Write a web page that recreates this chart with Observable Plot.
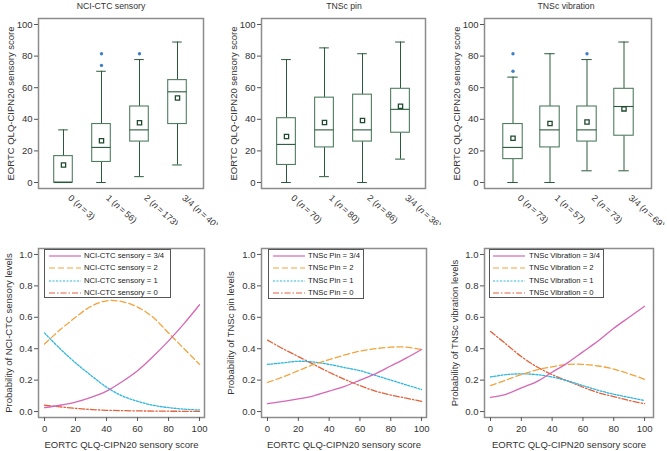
<!DOCTYPE html>
<html><head><meta charset="utf-8">
<script src="https://cdn.jsdelivr.net/npm/d3@7"></script>
<script src="https://cdn.jsdelivr.net/npm/@observablehq/plot@0.6"></script>
<style>
body{margin:0;background:#fff;font-family:"Liberation Sans",Arial,sans-serif;}
#root{position:relative;width:667px;height:451px;overflow:hidden;background:#fff;}
.panel{position:absolute;overflow:hidden;}
.panel svg{overflow:hidden;}
.title{position:absolute;font-size:8.7px;color:#333;text-align:center;width:200px;line-height:12px;}
.legend{position:absolute;border:1px solid #555;background:#fff;font-size:7.7px;color:#222;box-sizing:border-box;}
.legend .row{position:absolute;left:0;height:12px;line-height:12px;white-space:nowrap;}
.legend svg{position:absolute;top:0;}
.legend span{position:absolute;top:0;}
</style></head><body><div id="root"></div>
<script>
// ---------- Box plot data ----------
const categories = ["0", "1", "2", "3/4"];

const nciN = [3, 56, 173, 40];
const nciMin = [0, 0, 3.7, 11.1];
const nciQ1 = [0, 13, 25.9, 37];
const nciMedian = [0, 22.2, 33.3, 57.4];
const nciQ3 = [16.7, 37, 48.1, 64.8];
const nciMax = [33.3, 70.4, 77.8, 88.9];
const nciMean = [11.1, 26.4, 37.8, 53.5];
const nciOutCat = ["1", "1", "2"];
const nciOutVal = [74.1, 81.5, 81.5];

const pinN = [70, 80, 86, 36];
const pinMin = [0, 3.7, 0, 14.8];
const pinQ1 = [11.1, 22.2, 25.9, 31.5];
const pinMedian = [24.1, 33.3, 33.3, 46.3];
const pinQ3 = [40.7, 53.7, 55.6, 59.3];
const pinMax = [77.8, 85.2, 81.5, 88.9];
const pinMean = [29.1, 38, 39.3, 48.2];
const pinOutCat = [];
const pinOutVal = [];

const vibN = [73, 57, 73, 69];
const vibMin = [0, 0, 7.4, 7.4];
const vibQ1 = [14.8, 22.2, 25.9, 29.6];
const vibMedian = [22.2, 33.3, 33.3, 48.1];
const vibQ3 = [37, 48.1, 48.1, 59.3];
const vibMax = [66.7, 81.5, 77.8, 88.9];
const vibMean = [28, 37.4, 38.3, 46.6];
const vibOutCat = ["0", "0", "2"];
const vibOutVal = [70.4, 81.5, 81.5];

const boxTicks = [0, 20, 40, 60, 80, 100];

// ---------- Probability curve data ----------
const score = [0, 10, 20, 30, 40, 50, 60, 70, 80, 90, 100];
const levels = ["3/4", "2", "1", "0"];

const nciP34 = [0.025, 0.04, 0.06, 0.09, 0.13, 0.19, 0.26, 0.35, 0.45, 0.56, 0.68];
const nciP2  = [0.43, 0.52, 0.60, 0.67, 0.705, 0.70, 0.665, 0.60, 0.50, 0.40, 0.30];
const nciP1  = [0.50, 0.40, 0.31, 0.23, 0.155, 0.10, 0.065, 0.04, 0.025, 0.015, 0.01];
const nciP0  = [0.04, 0.03, 0.02, 0.013, 0.008, 0.006, 0.004, 0.003, 0.002, 0.0015, 0.001];

const pinP34 = [0.05, 0.065, 0.08, 0.10, 0.13, 0.16, 0.20, 0.24, 0.29, 0.34, 0.395];
const pinP2  = [0.185, 0.22, 0.26, 0.30, 0.33, 0.36, 0.385, 0.40, 0.41, 0.41, 0.395];
const pinP1  = [0.30, 0.31, 0.32, 0.315, 0.30, 0.28, 0.26, 0.23, 0.20, 0.17, 0.14];
const pinP0  = [0.455, 0.40, 0.35, 0.30, 0.25, 0.205, 0.165, 0.13, 0.105, 0.085, 0.065];

const vibP34 = [0.09, 0.11, 0.15, 0.19, 0.25, 0.31, 0.38, 0.45, 0.53, 0.60, 0.67];
const vibP2  = [0.165, 0.20, 0.235, 0.265, 0.285, 0.30, 0.30, 0.29, 0.27, 0.24, 0.205];
const vibP1  = [0.22, 0.235, 0.24, 0.235, 0.22, 0.195, 0.165, 0.135, 0.11, 0.09, 0.07];
const vibP0  = [0.51, 0.43, 0.35, 0.285, 0.235, 0.195, 0.155, 0.12, 0.095, 0.07, 0.05];

const probTicks = [0, 0.2, 0.4, 0.6, 0.8, 1.0];
const scoreTicks = [0, 20, 40, 60, 80, 100];

// ---------- styles ----------
const levelColor = {"3/4": "#d667b4", "2": "#f2a33c", "1": "#2db6e0", "0": "#e2623c"};
const levelDash = {"3/4": null, "2": "6,3", "1": "2,1.5", "0": "6,2,1.5,2"};
const font = "'Liberation Sans', Arial, sans-serif";
const frameColor = "#8c8c8c";
const whiskColor = "#2a5a3b";
const boxColor = "#4f7d60";

const root = document.getElementById("root");

function place(el, left, top, w, h) {
  const d = document.createElement("div");
  d.className = "panel";
  d.style.left = left + "px"; d.style.top = top + "px";
  d.style.width = w + "px"; d.style.height = h + "px";
  d.appendChild(el);
  root.appendChild(d);
}
function title(text, cx, cy) {
  const t = document.createElement("div");
  t.className = "title";
  t.textContent = text;
  t.style.left = (cx - 100) + "px";
  t.style.top = (cy - 6) + "px";
  root.appendChild(t);
}

function boxPanel(o) {
  const W = o.width - o.ml - o.mr;
  const step = W / (4 + o.pad), bw = step * (1 - o.pad);
  const boxIn = (bw - 19) / 2, capIn = (bw - 10) / 2;
  const rows = categories.map((c, i) => ({cat: c, min: o.min[i], q1: o.q1[i], med: o.med[i], q3: o.q3[i], max: o.max[i], mean: o.mean[i]}));
  const outs = o.outCat.map((c, i) => ({cat: c, v: o.outVal[i]}));
  const labels = new Map(categories.map((c, i) => [c, `${c} (n\u2009=\u2009${o.n[i]})`]));
  const svg = Plot.plot({
    width: o.width, height: 225,
    marginLeft: o.ml, marginRight: o.mr, marginTop: 18, marginBottom: 37,
    style: {fontFamily: font, fontSize: "9px", color: "#333", background: "transparent"},
    x: {type: "band", domain: categories, padding: o.pad},
    y: {domain: [-3.8, 103.8]},
    marks: [
      Plot.ruleX(rows, {x: "cat", y1: "min", y2: "q1", stroke: whiskColor}),
      Plot.ruleX(rows, {x: "cat", y1: "q3", y2: "max", stroke: whiskColor}),
      Plot.tickY(rows, {x: "cat", y: "min", insetLeft: capIn, insetRight: capIn, stroke: whiskColor}),
      Plot.tickY(rows, {x: "cat", y: "max", insetLeft: capIn, insetRight: capIn, stroke: whiskColor}),
      Plot.barY(rows, {x: "cat", y1: "q1", y2: "q3", fill: "white", stroke: boxColor, strokeWidth: 1.1, insetLeft: boxIn, insetRight: boxIn}),
      Plot.tickY(rows, {x: "cat", y: "med", insetLeft: boxIn, insetRight: boxIn, stroke: whiskColor, strokeWidth: 1.1}),
      Plot.dot(rows, {x: "cat", y: "mean", symbol: "square", r: 2.4, fill: "white", stroke: "#1f4a2e", strokeWidth: 1.3}),
      Plot.dot(outs, {x: "cat", y: "v", r: 1.7, fill: "#3f7fca"}),
      Plot.frame({stroke: frameColor, strokeWidth: 1.5}),
      Plot.axisY({ticks: boxTicks, tickSize: 4, tickPadding: 2, stroke: "#555", fontSize: 9.5,
        label: "EORTC QLQ-CIPN20 sensory score", labelAnchor: "center", labelArrow: "none", labelOffset: o.lo}),
      Plot.axisX({tickSize: 0, tickRotate: 42, tickPadding: 5, dx: 6, dy: 3, tickFormat: d => labels.get(d), label: null})
    ]
  });
  // italic n in tick labels
  svg.querySelectorAll("g[aria-label='x-axis tick label'] text").forEach(t => {
    const s = t.textContent;
    const m = s.match(/^(.*\()n(.*)$/);
    if (m) {
      t.textContent = "";
      t.appendChild(document.createTextNode(m[1]));
      const ts = document.createElementNS("http://www.w3.org/2000/svg", "tspan");
      ts.setAttribute("font-style", "italic");
      ts.textContent = "n";
      t.appendChild(ts);
      t.appendChild(document.createTextNode(m[2]));
    }
  });
  return svg;
}

function linePanel(o) {
  const series = [["3/4", o.p34], ["2", o.p2], ["1", o.p1], ["0", o.p0]];
  const lineMarks = series.map(([lev, vals]) => Plot.line(score.map((x, i) => ({x, y: vals[i]})), {
    x: "x", y: "y", stroke: levelColor[lev], strokeWidth: 1.3,
    strokeDasharray: levelDash[lev] || undefined, curve: "catmull-rom"
  }));
  return Plot.plot({
    width: o.width, height: 226,
    marginLeft: o.ml, marginRight: o.mr, marginTop: 23, marginBottom: 34,
    style: {fontFamily: font, fontSize: "9px", color: "#333", background: "transparent"},
    x: {domain: o.xd},
    y: {domain: [-0.038, 1.038]},
    marks: [
      ...lineMarks.reverse(),
      Plot.frame({stroke: frameColor, strokeWidth: 1.5}),
      Plot.axisY({ticks: probTicks, tickFormat: d3.format(".1f"), tickSize: 4, tickPadding: 2, stroke: "#555", fontSize: 9.5,
        label: o.ylabel, labelAnchor: "center", labelArrow: "none", labelOffset: o.lo}),
      Plot.axisX({ticks: scoreTicks, tickSize: 4, tickPadding: 4, stroke: "#555", fontSize: 9.5,
        label: "EORTC QLQ-CIPN20 sensory score", labelAnchor: "center", labelArrow: "none", labelOffset: 30})
    ]
  });
}

function legend(prefix, left, top, w, h, sampleX, textX) {
  const box = document.createElement("div");
  box.className = "legend";
  box.style.left = left + "px"; box.style.top = top + "px";
  box.style.width = w + "px"; box.style.height = h + "px";
  levels.forEach((lev, i) => {
    const row = document.createElement("div");
    row.className = "row";
    row.style.top = (i * 12.3) + "px";
    row.style.width = w + "px";
    const s = document.createElementNS("http://www.w3.org/2000/svg", "svg");
    s.setAttribute("width", 34); s.setAttribute("height", 12);
    s.style.left = sampleX + "px";
    const l = document.createElementNS("http://www.w3.org/2000/svg", "line");
    l.setAttribute("x1", 0); l.setAttribute("x2", 32); l.setAttribute("y1", 6); l.setAttribute("y2", 6);
    l.setAttribute("stroke", levelColor[lev]); l.setAttribute("stroke-width", 1.2);
    if (levelDash[lev]) l.setAttribute("stroke-dasharray", levelDash[lev]);
    s.appendChild(l);
    row.appendChild(s);
    const sp = document.createElement("span");
    sp.style.left = textX + "px";
    sp.textContent = `${prefix} = ${lev}`;
    row.appendChild(sp);
    box.appendChild(row);
  });
  root.appendChild(box);
}

// ---------- top row: box plots ----------
place(boxPanel({width: 222, ml: 38, mr: 19, pad: 0.31, lo: 31, n: nciN, min: nciMin, q1: nciQ1, med: nciMedian, q3: nciQ3, max: nciMax, mean: nciMean, outCat: nciOutCat, outVal: nciOutVal}), 0, 0, 222, 225);
place(boxPanel({width: 222, ml: 39, mr: 19, pad: 0.31, lo: 31, n: pinN, min: pinMin, q1: pinQ1, med: pinMedian, q3: pinQ3, max: pinMax, mean: pinMean, outCat: pinOutCat, outVal: pinOutVal}), 222, 0, 222, 225);
place(boxPanel({width: 223, ml: 40, mr: 16, pad: 0.5, lo: 31, n: vibN, min: vibMin, q1: vibQ1, med: vibMedian, q3: vibQ3, max: vibMax, mean: vibMean, outCat: vibOutCat, outVal: vibOutVal}), 444, 0, 223, 225);

title("NCI-CTC sensory", 111, 6);
title("TNSc pin", 344, 6);
title("TNSc vibration", 566, 6);

// ---------- bottom row: probability curves ----------
place(linePanel({width: 222, ml: 38, mr: 18, xd: [-3.9, 103.2], lo: 33, ylabel: "Probability of NCI-CTC sensory levels", p34: nciP34, p2: nciP2, p1: nciP1, p0: nciP0}), 0, 225, 222, 226);
place(linePanel({width: 222, ml: 39, mr: 18, xd: [-3.9, 103.2], lo: 34, ylabel: "Probability of TNSc pin levels", p34: pinP34, p2: pinP2, p1: pinP1, p0: pinP0}), 222, 225, 222, 226);
place(linePanel({width: 223, ml: 40, mr: 14, xd: [-3.9, 105.8], lo: 33, ylabel: "Probability of TNSc vibration levels", p34: vibP34, p2: vibP2, p1: vibP1, p0: vibP0}), 444, 225, 223, 226);

legend("NCI-CTC sensory", 44, 249, 127, 49, 4, 39);
legend("TNSc Pin", 268, 249, 96, 50, 4, 39);
legend("TNSc Vibration", 489, 249, 115, 49, 3, 39);
</script></body></html>
